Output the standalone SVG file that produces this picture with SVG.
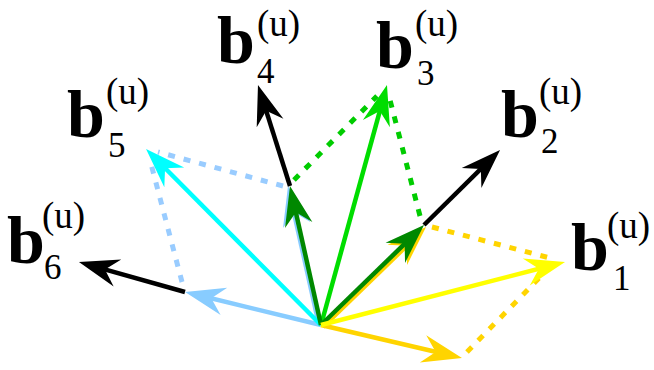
<svg xmlns="http://www.w3.org/2000/svg" width="654" height="370" viewBox="0 0 654 370">
<style>
.s{fill:none;stroke-width:4.5;stroke-linecap:butt}
.d{fill:none;stroke-width:5;stroke-dasharray:7 9}
.b{font-weight:bold;font-size:68px;fill:#000}
.u{font-size:37px;fill:#000}
.n{font-size:35px;fill:#000}
</style>
<defs>
<marker id="mk" viewBox="-44 -17 46 34" refX="-12" refY="0" markerWidth="46" markerHeight="34" markerUnits="userSpaceOnUse" orient="auto" overflow="visible"><path d="M0,0 L-40,-14 L-27,0 L-40,14 Z" fill="#000"/></marker>
<marker id="my" viewBox="-44 -17 46 34" refX="-12" refY="0" markerWidth="46" markerHeight="34" markerUnits="userSpaceOnUse" orient="auto" overflow="visible"><path d="M0,0 L-40,-14 L-27,0 L-40,14 Z" fill="#FFFF00"/></marker>
<marker id="mo" viewBox="-44 -17 46 34" refX="-12" refY="0" markerWidth="46" markerHeight="34" markerUnits="userSpaceOnUse" orient="auto" overflow="visible"><path d="M0,0 L-40,-14 L-27,0 L-40,14 Z" fill="#FFD400"/></marker>
<marker id="mg" viewBox="-44 -17 46 34" refX="-12" refY="0" markerWidth="46" markerHeight="34" markerUnits="userSpaceOnUse" orient="auto" overflow="visible"><path d="M0,0 L-40,-14 L-27,0 L-40,14 Z" fill="#00DD00"/></marker>
<marker id="mdg" viewBox="-44 -17 46 34" refX="-12" refY="0" markerWidth="46" markerHeight="34" markerUnits="userSpaceOnUse" orient="auto" overflow="visible"><path d="M0,0 L-40,-14 L-27,0 L-40,14 Z" fill="#008800"/></marker>
<marker id="mc" viewBox="-44 -17 46 34" refX="-12" refY="0" markerWidth="46" markerHeight="34" markerUnits="userSpaceOnUse" orient="auto" overflow="visible"><path d="M0,0 L-40,-14 L-27,0 L-40,14 Z" fill="#00FFFF"/></marker>
<marker id="ml" viewBox="-44 -17 46 34" refX="-12" refY="0" markerWidth="46" markerHeight="34" markerUnits="userSpaceOnUse" orient="auto" overflow="visible"><path d="M0,0 L-40,-14 L-27,0 L-40,14 Z" fill="#88CCFF"/></marker>
</defs>
<g id="connectors">
  <line class="d" stroke="#99CCFF" x1="283" y1="186" x2="158" y2="152"/>
  <line class="d" stroke="#99CCFF" x1="182" y1="282" x2="150" y2="160"/>
  <line class="d" stroke="#00CC00" x1="294" y1="180" x2="377" y2="96"/>
  <line class="d" stroke="#00CC00" x1="420" y1="216" x2="390" y2="100"/>
  <line class="d" stroke="#FFD400" x1="432" y1="227" x2="550" y2="258"/>
  <line class="d" stroke="#FFD400" x1="467" y1="352" x2="545" y2="272"/>
  <line class="s" stroke="#88CCFF" x1="321" y1="325" x2="196.7" y2="294.8" marker-end="url(#ml)"/>
  <line class="s" stroke="#88CCFF" x1="319" y1="325" x2="290.6" y2="197.7" marker-end="url(#ml)"/>
  <line class="s" stroke="#FFD400" x1="321" y1="325" x2="450.3" y2="355.3" marker-end="url(#mo)"/>
  <line class="s" stroke="#FFD400" x1="323" y1="327" x2="417.4" y2="235.4" marker-end="url(#mo)"/>
  <line class="s" stroke="#00FFFF" x1="321" y1="325" x2="154.5" y2="157.5" marker-end="url(#mc)"/>
  <line class="s" stroke="#00DD00" x1="321" y1="325" x2="383.8" y2="96.6" marker-end="url(#mg)"/>
  <line class="s" stroke="#008800" x1="321" y1="325" x2="292.6" y2="197.7" marker-end="url(#mdg)"/>
  <line class="s" stroke="#008800" x1="321" y1="325" x2="415.4" y2="233.4" marker-end="url(#mdg)"/>
  <line class="s" stroke="#FFFF00" x1="321" y1="325" x2="553.4" y2="265" marker-end="url(#my)"/>
  <line class="s" stroke="#000" x1="290" y1="186" x2="261.6" y2="96.4" marker-end="url(#mk)"/>
  <line class="s" stroke="#000" x1="424" y1="225" x2="491.5" y2="158.4" marker-end="url(#mk)"/>
  <line class="s" stroke="#000" x1="185" y1="292" x2="90.5" y2="265.3" marker-end="url(#mk)"/>
</g>
<g font-family="Liberation Serif, Times New Roman, serif">
<g id="b1"><text class="b" x="571" y="270">b</text><text class="u" x="607" y="238">(u)</text><text class="n" x="613" y="290">1</text></g>
<g id="b2"><text class="b" x="501" y="137">b</text><text class="u" x="539" y="104">(u)</text><text class="n" x="541" y="153">2</text></g>
<g id="b3"><text class="b" x="376" y="68">b</text><text class="u" x="415" y="36">(u)</text><text class="n" x="417" y="85">3</text></g>
<g id="b4"><text class="b" x="217" y="63">b</text><text class="u" x="257" y="36">(u)</text><text class="n" x="257" y="83">4</text></g>
<g id="b5"><text class="b" x="67" y="137">b</text><text class="u" x="106" y="104">(u)</text><text class="n" x="108" y="157">5</text></g>
<g id="b6"><text class="b" x="7" y="263">b</text><text class="u" x="42" y="228">(u)</text><text class="n" x="44" y="279">6</text></g>
</g>
</svg>
